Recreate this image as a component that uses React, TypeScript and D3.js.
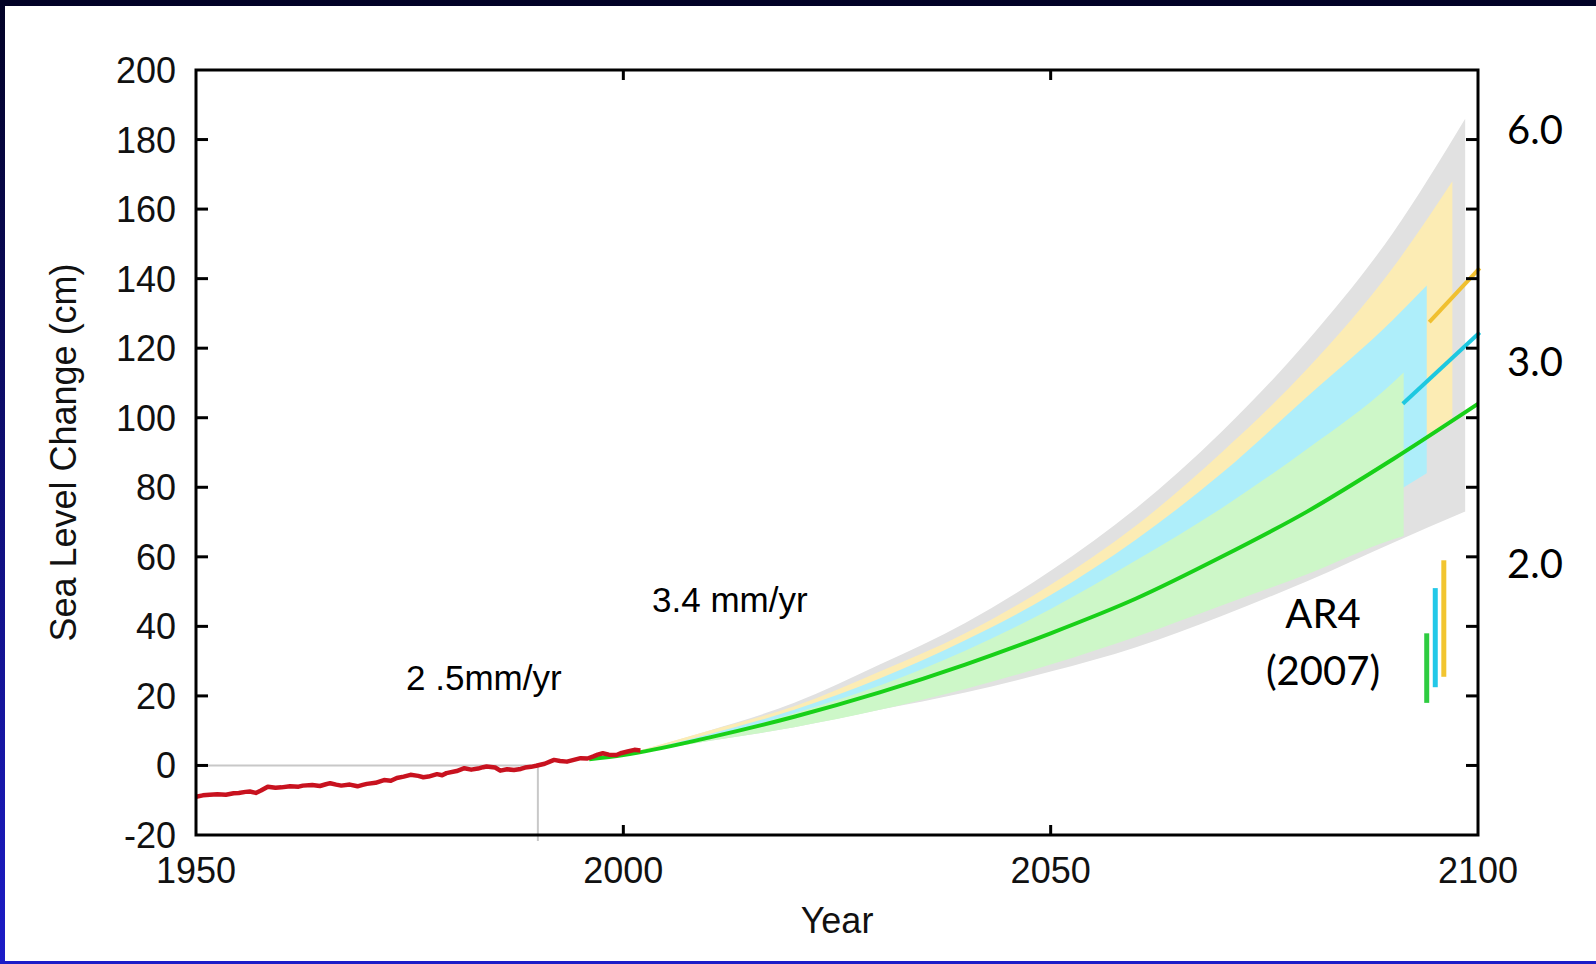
import * as d3 from "d3";

const W = 1596;
const H = 964;

// observed record (cm), 1950-2002
const obsYears = [1950, 1950.8, 1951.6, 1952.5, 1953.5, 1954.4, 1955, 1955.8, 1956.3, 1957, 1957.6, 1958.4, 1959.3, 1960, 1961, 1962, 1962.5, 1963.6, 1964.5, 1965.2, 1965.7, 1966.4, 1967, 1968, 1968.9, 1969.5, 1970, 1971, 1972, 1972.8, 1973.5, 1974.3, 1975.1, 1976, 1976.6, 1977.2, 1978.2, 1978.8, 1979.3, 1980.5, 1981.4, 1982.2, 1983, 1983.6, 1984, 1985, 1985.6, 1986.4, 1987.2, 1988, 1988.5, 1989.2, 1989.8, 1990.8, 1991.4, 1991.9, 1992.6, 1993.4, 1994.2, 1995, 1995.8, 1996.5, 1997, 1997.6, 1998.3, 1999.2, 1999.8, 2000.5, 2001.3, 2002];
const obsValues = [-9, -8.6, -8.4, -8.3, -8.4, -8.0, -7.9, -7.6, -7.5, -7.9, -7.2, -6.1, -6.4, -6.3, -6.0, -6.1, -5.8, -5.6, -5.9, -5.4, -5.1, -5.5, -5.8, -5.5, -6.0, -5.6, -5.3, -5.0, -4.2, -4.4, -3.6, -3.2, -2.7, -3.0, -3.4, -3.2, -2.5, -2.8, -2.2, -1.6, -0.8, -1.2, -0.9, -0.5, -0.3, -0.6, -1.5, -1.1, -1.3, -1.0, -0.6, -0.4, -0.1, 0.5, 1.1, 1.6, 1.3, 1.1, 1.6, 2.1, 2.0, 2.6, 3.1, 3.5, 3.1, 3.0, 3.6, 4.0, 4.5, 4.3];

// central projection (cm)
const centralYears = [1996, 2000, 2010, 2020, 2030, 2040, 2050, 2060, 2070, 2080, 2090, 2100];
const centralValues = [1.8, 3, 8, 14, 21, 29, 38, 48, 60, 73, 88, 104];

// uncertainty bands (cm); the last entry belongs to each band's end year
const bandYears = [2000, 2010, 2020, 2030, 2040, 2050, 2060, 2070, 2080, 2090];
const greyEnd = 2098.5;
const greyUpper = [3, 10, 18, 29, 41, 56, 74, 96, 122, 153, 186];
const greyLower = [3, 7, 11, 16, 21, 27, 34, 43, 53, 64, 73];
const yellowEnd = 2097;
const yellowUpper = [3, 10, 17, 27, 38, 52, 69, 90, 114, 143, 168];
const yellowLower = [3, 8, 12, 18, 25, 33, 42, 55, 70, 88, 100];
const cyanEnd = 2094;
const cyanUpper = [3, 9, 16, 25, 36, 49, 65, 84, 106, 128, 138];
const cyanLower = [3, 8, 12, 18, 25, 32, 41, 52, 64, 78, 84];
const greenEnd = 2091.3;
const greenUpper = [3, 8, 15, 23, 33, 45, 59, 74, 91, 110, 113];
const greenLower = [3, 7, 11, 16, 22, 29, 37, 46, 55, 65, 66];

// short scenario segments near 2100
const cyanSegYears = [2091.2, 2100.2];
const cyanSegValues = [104, 124.5];
const yellowSegYears = [2094.3, 2100.2];
const yellowSegValues = [127.5, 143];

// AR4 (2007) ranges
const ar4Years = [2094, 2095, 2096];
const ar4Low = [18, 22.5, 25.5];
const ar4High = [38, 51, 59];
const ar4Colors = ["#2ecc40", "#22c8e8", "#f2c530"];

const yTicks = [-20, 0, 20, 40, 60, 80, 100, 120, 140, 160, 180, 200];
const xTicks = [1950, 2000, 2050, 2100];
const rightLabels = ["6.0", "3.0", "2.0"];
const rightLabelAt = [183, 116, 58];

const x = d3.scaleLinear().domain([1950, 2100]).range([196, 1478]);
const y = d3.scaleLinear().domain([-20, 200]).range([835, 70]);

const bandRows = (end: number, lo: number[], hi: number[]) =>
  [...bandYears, end].map((yr, i) => ({ yr, lo: lo[i], hi: hi[i] }));

const area = d3
  .area<{ yr: number; lo: number; hi: number }>()
  .x((d) => x(d.yr))
  .y0((d) => y(d.lo))
  .y1((d) => y(d.hi))
  .curve(d3.curveMonotoneX);

const smooth = d3
  .line<[number, number]>()
  .x((d) => x(d[0]))
  .y((d) => y(d[1]))
  .curve(d3.curveMonotoneX);

const jagged = d3
  .line<[number, number]>()
  .x((d) => x(d[0]))
  .y((d) => y(d[1]));

const zip = (a: number[], b: number[]) => a.map((v, i) => [v, b[i]] as [number, number]);

const bands = [
  { rows: bandRows(greyEnd, greyLower, greyUpper), fill: "#e1e1e1" },
  { rows: bandRows(yellowEnd, yellowLower, yellowUpper), fill: "#fcecb4" },
  { rows: bandRows(cyanEnd, cyanLower, cyanUpper), fill: "#aeeefa" },
  { rows: bandRows(greenEnd, greenLower, greenUpper), fill: "#cdf7c8" },
];

const sans = "'Liberation Sans', Arial, sans-serif";
const cal = "Lato, 'Open Sans', sans-serif";

export default function App() {
  const x0 = x(1950), x1 = x(2100), yTop = y(200), yBot = y(-20);
  return (
    <svg width={W} height={H} style={{ position: "absolute", left: 0, top: 0 }}>
      <defs>
        <linearGradient id="frame" x1="0" y1="0" x2="0" y2="1">
          <stop offset="0" stopColor="#020226" />
          <stop offset="1" stopColor="#1c1cc8" />
        </linearGradient>
      </defs>
      <rect width={W} height={H} fill="url(#frame)" />
      <rect x={5} y={6} width={W - 5} height={955} fill="#ffffff" />

      {bands.map((b, i) => (
        <path key={i} d={area(b.rows) || ""} fill={b.fill} />
      ))}

      {ar4Years.map((yr, i) => (
        <line key={i} x1={x(yr)} x2={x(yr)} y1={y(ar4Low[i])} y2={y(ar4High[i])}
          stroke={ar4Colors[i]} strokeWidth={5} />
      ))}

      <line x1={x0} x2={x(1990)} y1={y(0)} y2={y(0)} stroke="#c8c8c8" strokeWidth={2} />
      <line x1={x(1990)} x2={x(1990)} y1={y(0)} y2={yBot + 6} stroke="#c8c8c8" strokeWidth={2} />

      <path d={smooth(zip(centralYears, centralValues)) || ""} fill="none" stroke="#18d018" strokeWidth={4} />
      <path d={jagged(zip(obsYears, obsValues)) || ""} fill="none" stroke="#c8121f" strokeWidth={4.5}
        strokeLinejoin="round" />
      <path d={smooth(zip(cyanSegYears, cyanSegValues)) || ""} fill="none" stroke="#1ec8e0" strokeWidth={4} />
      <path d={smooth(zip(yellowSegYears, yellowSegValues)) || ""} fill="none" stroke="#f0c030" strokeWidth={4} />

      {/* frame of the plot */}
      <rect x={x0} y={yTop} width={x1 - x0} height={yBot - yTop} fill="none" stroke="#000" strokeWidth={3} />
      {yTicks.slice(1, -1).map((t) => (
        <g key={t}>
          <line x1={x0} x2={x0 + 12} y1={y(t)} y2={y(t)} stroke="#000" strokeWidth={3} />
          <line x1={x1 - 12} x2={x1} y1={y(t)} y2={y(t)} stroke="#000" strokeWidth={3} />
        </g>
      ))}
      {xTicks.slice(1, -1).map((t) => (
        <g key={t}>
          <line x1={x(t)} x2={x(t)} y1={yBot} y2={yBot - 10} stroke="#000" strokeWidth={3} />
          <line x1={x(t)} x2={x(t)} y1={yTop} y2={yTop + 10} stroke="#000" strokeWidth={3} />
        </g>
      ))}

      {yTicks.map((t) => (
        <text key={t} x={176} y={y(t)} dy="0.36em" textAnchor="end" fontFamily={sans} fontSize={36} fill="#111">
          {t}
        </text>
      ))}
      {xTicks.map((t) => (
        <text key={t} x={x(t)} y={883} textAnchor="middle" fontFamily={sans} fontSize={36} fill="#111">
          {t}
        </text>
      ))}
      <text x={(x0 + x1) / 2} y={933} textAnchor="middle" fontFamily={sans} fontSize={36} fill="#111">
        Year
      </text>
      <text transform={`translate(76,${(yTop + yBot) / 2}) rotate(-90)`} textAnchor="middle"
        fontFamily={sans} fontSize={36} fill="#111">
        Sea Level Change (cm)
      </text>

      <text x={406} y={690} fontFamily={sans} fontSize={35} fill="#000">2 .5mm/yr</text>
      <text x={652} y={612} fontFamily={sans} fontSize={35} fill="#000">3.4 mm/yr</text>

      {rightLabels.map((s, i) => (
        <text key={s} x={1507} y={y(rightLabelAt[i])} dy="0.36em" fontFamily={cal} fontSize={40} fill="#000">
          {s}
        </text>
      ))}
      <text x={1323} y={628} textAnchor="middle" fontFamily={cal} fontSize={40} fill="#000">AR4</text>
      <text x={1323} y={685} textAnchor="middle" fontFamily={cal} fontSize={40} fill="#000">(2007)</text>
    </svg>
  );
}
